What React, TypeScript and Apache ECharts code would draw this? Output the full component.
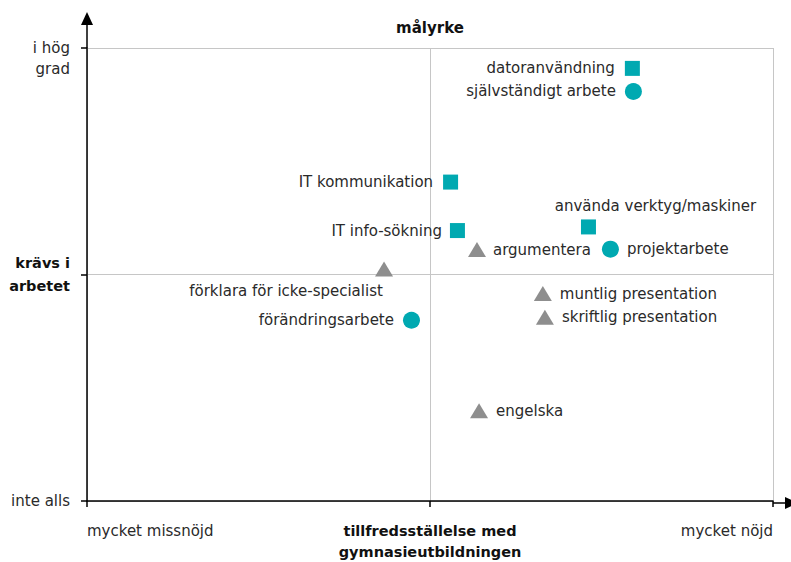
import React, { useEffect, useRef } from 'react';
import * as echarts from 'echarts';

const xTickValues = [0, 1, 2];
const xTickLabels = ['mycket missnöjd', 'tillfredsställelse med\ngymnasieutbildningen', 'mycket nöjd'];
const yTickValues = [0, 1, 2];
const yTickLabels = ['inte alls', 'krävs i\narbetet', 'i hög\ngrad'];
const chartTitle = 'målyrke';

const squareNames = ['datoranvändning', 'IT kommunikation', 'IT info-sökning', 'använda verktyg/maskiner'];
const squareX = [1.59, 1.06, 1.08, 1.462];
const squareY = [1.91, 1.408, 1.194, 1.21];

const circleNames = ['självständigt arbete', 'projektarbete', 'förändringsarbete'];
const circleX = [1.593, 1.526, 0.946];
const circleY = [1.808, 1.112, 0.798];

const triangleNames = ['argumentera', 'förklara för icke-specialist', 'muntlig presentation', 'skriftlig presentation', 'engelska'];
const triangleX = [1.137, 0.866, 1.329, 1.335, 1.143];
const triangleY = [1.11, 1.024, 0.916, 0.811, 0.398];

const labelPlacement: Record<string, any> = {
  'datoranvändning': { position: 'left', distance: 10 },
  'IT kommunikation': { position: 'left', distance: 10 },
  'IT info-sökning': { position: 'left', distance: 8 },
  'använda verktyg/maskiner': { position: 'top', distance: 5, offset: [67, -1] },
  'självständigt arbete': { position: 'left', distance: 9 },
  'projektarbete': { position: 'right', distance: 8 },
  'förändringsarbete': { position: 'left', distance: 9 },
  'argumentera': { position: 'right', distance: 7 },
  'förklara för icke-specialist': { position: 'bottom', distance: 7, offset: [-98, 0] },
  'muntlig presentation': { position: 'right', distance: 8 },
  'skriftlig presentation': { position: 'right', distance: 8 },
  'engelska': { position: 'right', distance: 8 },
};

const W = 791;
const H = 562;
const G = { left: 87, right: 18, top: 48, bottom: 59 };
const FONT = 'DejaVu Sans';
const TEXT = '#2a2a2a';
const TEAL = '#00A9B1';
const GREY = '#8E8E8E';

function makeData(names: string[], xs: number[], ys: number[]) {
  return names.map((n, i) => ({
    name: n,
    value: [xs[i], ys[i]],
    label: { show: true, formatter: '{b}', ...labelPlacement[n] },
  }));
}

export default function App() {
  const ref = useRef<HTMLDivElement>(null);
  useEffect(() => {
    if (!ref.current) return;
    const chart = echarts.init(ref.current, null, { renderer: 'svg' });
    const x0 = G.left;
    const x2 = W - G.right;
    const yb = H - G.bottom;
    const yt = G.top;
    const labelStyle = { color: TEXT, fontFamily: FONT, fontSize: 15, opacity: 1 };
    chart.setOption({
      animation: false,
      textStyle: { fontFamily: FONT },
      grid: { ...G, containLabel: false },
      xAxis: {
        type: 'value',
        min: 0,
        max: 2,
        interval: 1,
        axisLine: { show: true, lineStyle: { color: '#000', width: 1.5 } },
        axisTick: { show: true, length: 6, lineStyle: { color: '#000', width: 1.5 } },
        splitLine: { show: true, lineStyle: { color: '#c6c6c6', width: 1 } },
        axisLabel: {
          margin: 19,
          color: TEXT,
          fontFamily: FONT,
          fontSize: 15,
          lineHeight: 21,
          alignMinLabel: 'left',
          alignMaxLabel: 'right',
          formatter: (v: number) => {
            const i = xTickValues.indexOf(v);
            if (i < 0) return '';
            if (i === 1) return xTickLabels[i].split('\n').map((s) => `{b|${s}}`).join('\n');
            return xTickLabels[i];
          },
          rich: { b: { fontWeight: 'bold', fontSize: 14.5, lineHeight: 21, color: '#111', fontFamily: FONT } },
        },
      },
      yAxis: {
        type: 'value',
        min: 0,
        max: 2,
        interval: 1,
        axisLine: { show: true, lineStyle: { color: '#000', width: 1.5 } },
        axisTick: { show: true, length: 6, lineStyle: { color: '#000', width: 1.5 } },
        splitLine: { show: true, lineStyle: { color: '#c6c6c6', width: 1 } },
        axisLabel: {
          margin: 17,
          color: TEXT,
          fontFamily: FONT,
          fontSize: 15,
          lineHeight: 21,
          align: 'right',
          formatter: (v: number) => {
            const i = yTickValues.indexOf(v);
            if (i < 0) return '';
            if (i === 1) return yTickLabels[i].split('\n').map((s) => `{b|${s}}`).join('\n');
            if (i === 2) return ' \n' + yTickLabels[i];
            return yTickLabels[i];
          },
          rich: { b: { fontWeight: 'bold', fontSize: 14.5, lineHeight: 23, color: '#111', fontFamily: FONT, align: 'right' } },
        },
      },
      graphic: [
        { type: 'line', shape: { x1: x0, y1: yt, x2: x0, y2: 24 }, style: { stroke: '#000', lineWidth: 1.5 } },
        { type: 'polygon', shape: { points: [[x0, 12], [x0 - 6, 25], [x0 + 6, 25]] }, style: { fill: '#000' } },
        { type: 'line', shape: { x1: x2, y1: yb, x2: 786, y2: yb }, style: { stroke: '#000', lineWidth: 1.5 } },
        { type: 'polygon', shape: { points: [[798, yb], [785, yb - 6], [785, yb + 6]] }, style: { fill: '#000' } },
        {
          type: 'text',
          x: 430,
          y: 28,
          style: { text: chartTitle, align: 'center', verticalAlign: 'middle', fontFamily: FONT, fontSize: 15, fontWeight: 'bold', fill: '#111' },
        },
      ],
      series: [
        {
          type: 'scatter',
          symbol: 'rect',
          symbolSize: 15,
          itemStyle: { color: TEAL, opacity: 1 },
          label: labelStyle,
          data: makeData(squareNames, squareX, squareY),
        },
        {
          type: 'scatter',
          symbol: 'circle',
          symbolSize: 17,
          itemStyle: { color: TEAL, opacity: 1 },
          label: labelStyle,
          data: makeData(circleNames, circleX, circleY),
        },
        {
          type: 'scatter',
          symbol: 'triangle',
          symbolSize: [18, 15],
          itemStyle: { color: GREY, opacity: 1 },
          label: labelStyle,
          data: makeData(triangleNames, triangleX, triangleY),
        },
      ],
    });
    return () => chart.dispose();
  }, []);
  return <div ref={ref} style={{ position: 'fixed', left: 0, top: 0, width: W, height: H, background: '#fff' }} />;
}
